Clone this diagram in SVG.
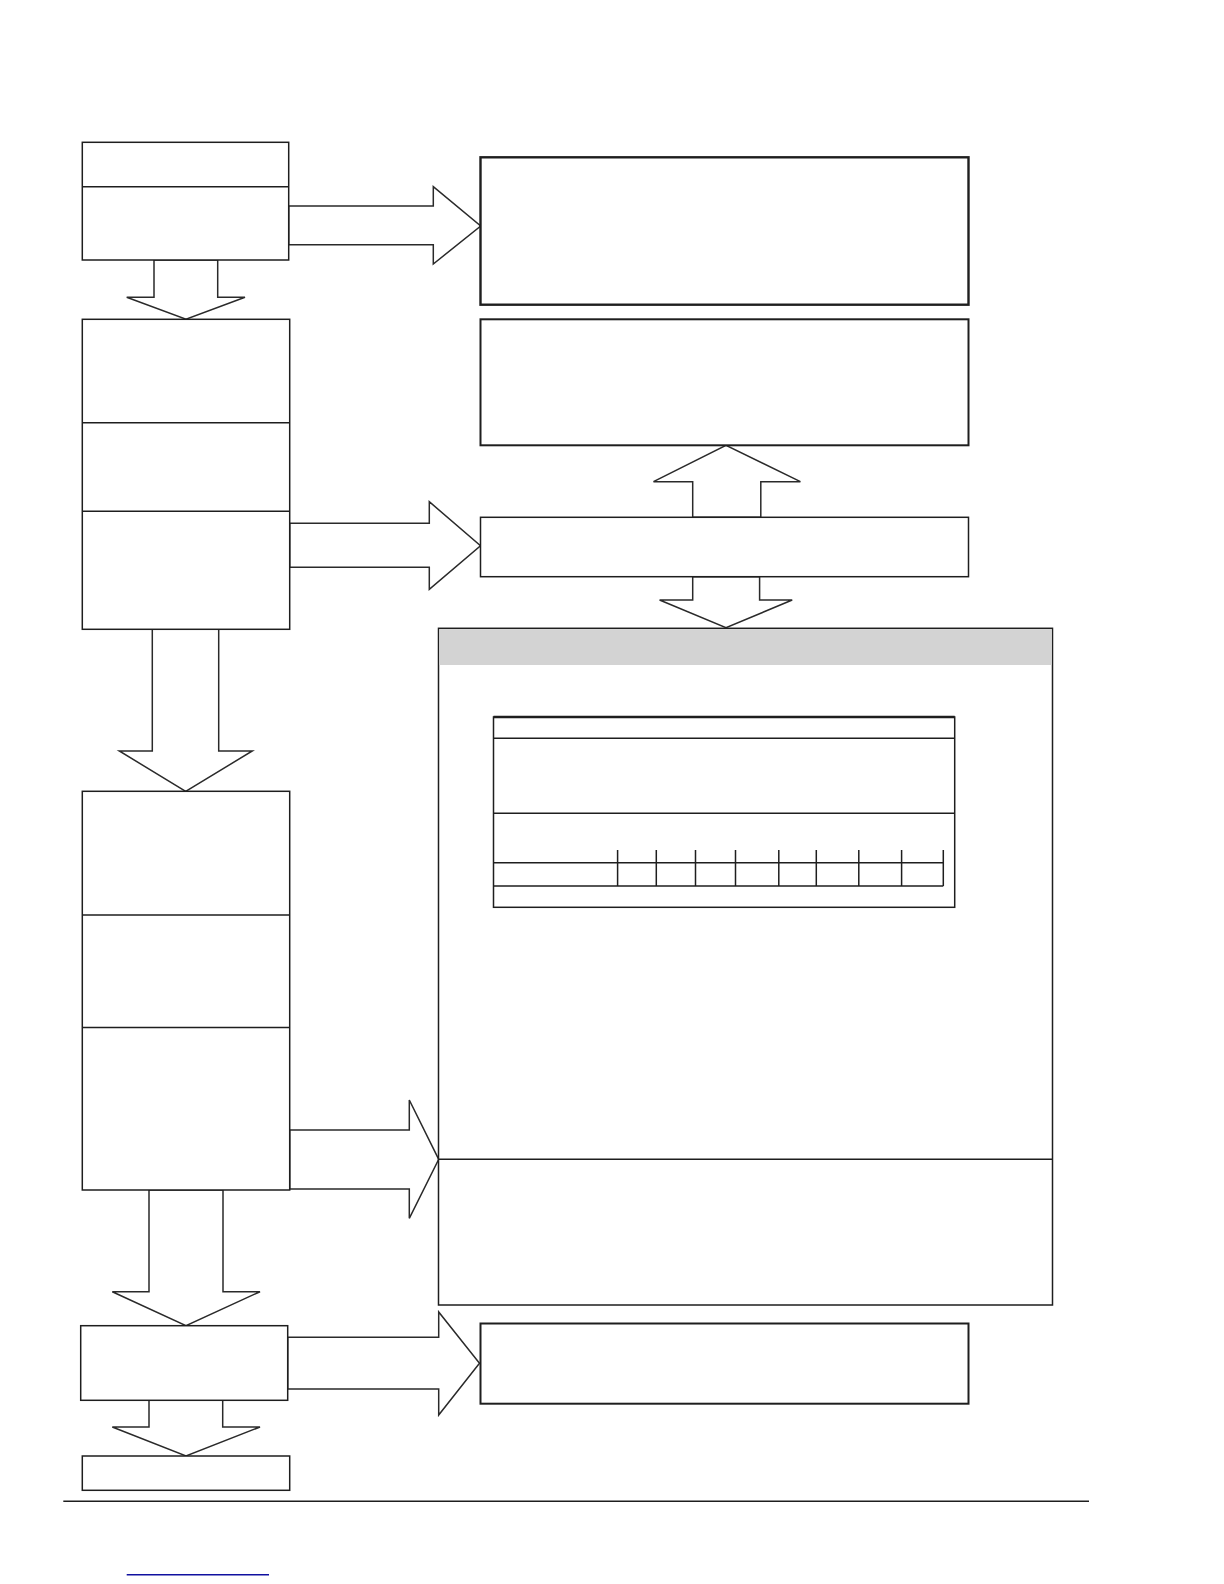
<svg xmlns="http://www.w3.org/2000/svg" width="1224" height="1584" viewBox="0 0 1224 1584">
<style>
.bx{fill:#fff;stroke:#1e1e1e;stroke-width:1.5}
.thick{stroke-width:2.4}
.div{stroke:#1e1e1e;stroke-width:1.5;fill:none}
.arr{fill:#fff;stroke:#2a2a2a;stroke-width:1.5;stroke-linejoin:miter}
.hdr{fill:#d3d3d3;stroke:none}
</style>
<rect width="1224" height="1584" fill="#fff"/>
<g id="connectors">
<polygon class="arr" points="288.7,206 433.3,206 433.3,186.7 480.7,226 433.3,264 433.3,244.7 288.7,244.7"/>
<polygon class="arr" points="154,260 154,297.3 126.7,297.3 186,319.3 245,297.3 217.7,297.3 217.7,260"/>
<polygon class="arr" points="289.7,523.3 429.3,523.3 429.3,501.7 480.5,545.7 429.3,589.3 429.3,567.3 289.7,567.3"/>
<polygon class="arr" points="692.7,517.3 692.7,481.7 653.5,481.7 726,445.3 800.4,481.7 760.8,481.7 760.8,517.3"/>
<polygon class="arr" points="692.7,576.7 692.7,600 659.6,600 726,627.8 792.2,600 759.6,600 759.6,576.7"/>
<polygon class="arr" points="152.3,629.3 152.3,751 119.3,751 185.7,791.3 252.3,751 218.7,751 218.7,629.3"/>
<polygon class="arr" points="289.7,1130 409.3,1130 409.3,1100 438.7,1159.3 409.3,1218.3 409.3,1189 289.7,1189"/>
<polygon class="arr" points="149,1190 149,1291.7 112.3,1291.7 186,1325.7 260,1291.7 223,1291.7 223,1190"/>
<polygon class="arr" points="287.7,1337.3 438.7,1337.3 438.7,1312 479.5,1363.3 438.7,1415 438.7,1389 287.7,1389"/>
<polygon class="arr" points="149,1400.3 149,1427 112.3,1427 186,1456 260,1427 222.7,1427 222.7,1400.3"/>
</g>
<g id="box1">
<rect class="bx" x="82.3" y="142.3" width="206.4" height="117.7"/>
<line class="div" x1="82.3" y1="186.7" x2="288.7" y2="186.7"/>
</g>
<g id="box2">
<rect class="bx" x="82.3" y="319.3" width="207.4" height="310"/>
<line class="div" x1="82.3" y1="422.7" x2="289.7" y2="422.7"/>
<line class="div" x1="82.3" y1="511.3" x2="289.7" y2="511.3"/>
</g>
<g id="box3">
<rect class="bx" x="82.3" y="791.3" width="207.4" height="398.7"/>
<line class="div" x1="82.3" y1="915" x2="289.7" y2="915"/>
<line class="div" x1="82.3" y1="1027.5" x2="289.7" y2="1027.5"/>
</g>
<g id="box4">
<rect class="bx" x="80.7" y="1325.7" width="207" height="74.6"/>
</g>
<g id="box5">
<rect class="bx" x="82.3" y="1456" width="207.4" height="34.3"/>
</g>
<g id="r1">
<rect class="bx thick" x="480.5" y="157.3" width="488" height="147.4"/>
</g>
<g id="r2">
<rect class="bx" style="stroke-width:2" x="480.5" y="319.3" width="488" height="126"/>
</g>
<g id="r3">
<rect class="bx" x="480.5" y="517.3" width="488" height="59.4"/>
</g>
<g id="r4">
<rect class="bx" style="stroke-width:2" x="480.5" y="1323.5" width="488" height="80.2"/>
</g>
<g id="big">
<rect class="bx" x="438.5" y="628.3" width="614" height="676.7"/>
<rect class="hdr" x="439.3" y="629.1" width="612.4" height="35.9"/>
<line class="div" x1="438.5" y1="1159.3" x2="1052.5" y2="1159.3"/>
<g id="table">
<rect class="bx" x="493.5" y="717" width="461.2" height="190.3"/>
<line class="div" style="stroke-width:2.6" x1="493.5" y1="717" x2="954.7" y2="717"/>
<line class="div" x1="493.5" y1="738.3" x2="954.7" y2="738.3"/>
<line class="div" x1="493.5" y1="813.3" x2="954.7" y2="813.3"/>
<line class="div" x1="493.5" y1="862.7" x2="943.3" y2="862.7"/>
<line class="div" x1="493.5" y1="886" x2="943.3" y2="886"/>
<path class="div" d="M617.6,850V886M656.3,850V886M695.5,850V886M735.5,850V886M778.8,850V886M816.3,850V886M858.8,850V886M901.6,850V886M943.3,850V886"/>
</g>
</g>
<line x1="63.3" y1="1501.2" x2="1089" y2="1501.2" stroke="#1e1e1e" stroke-width="1.5"/>
<line x1="126.7" y1="1574.7" x2="269" y2="1574.7" stroke="#1010a0" stroke-width="1.5"/>
</svg>
